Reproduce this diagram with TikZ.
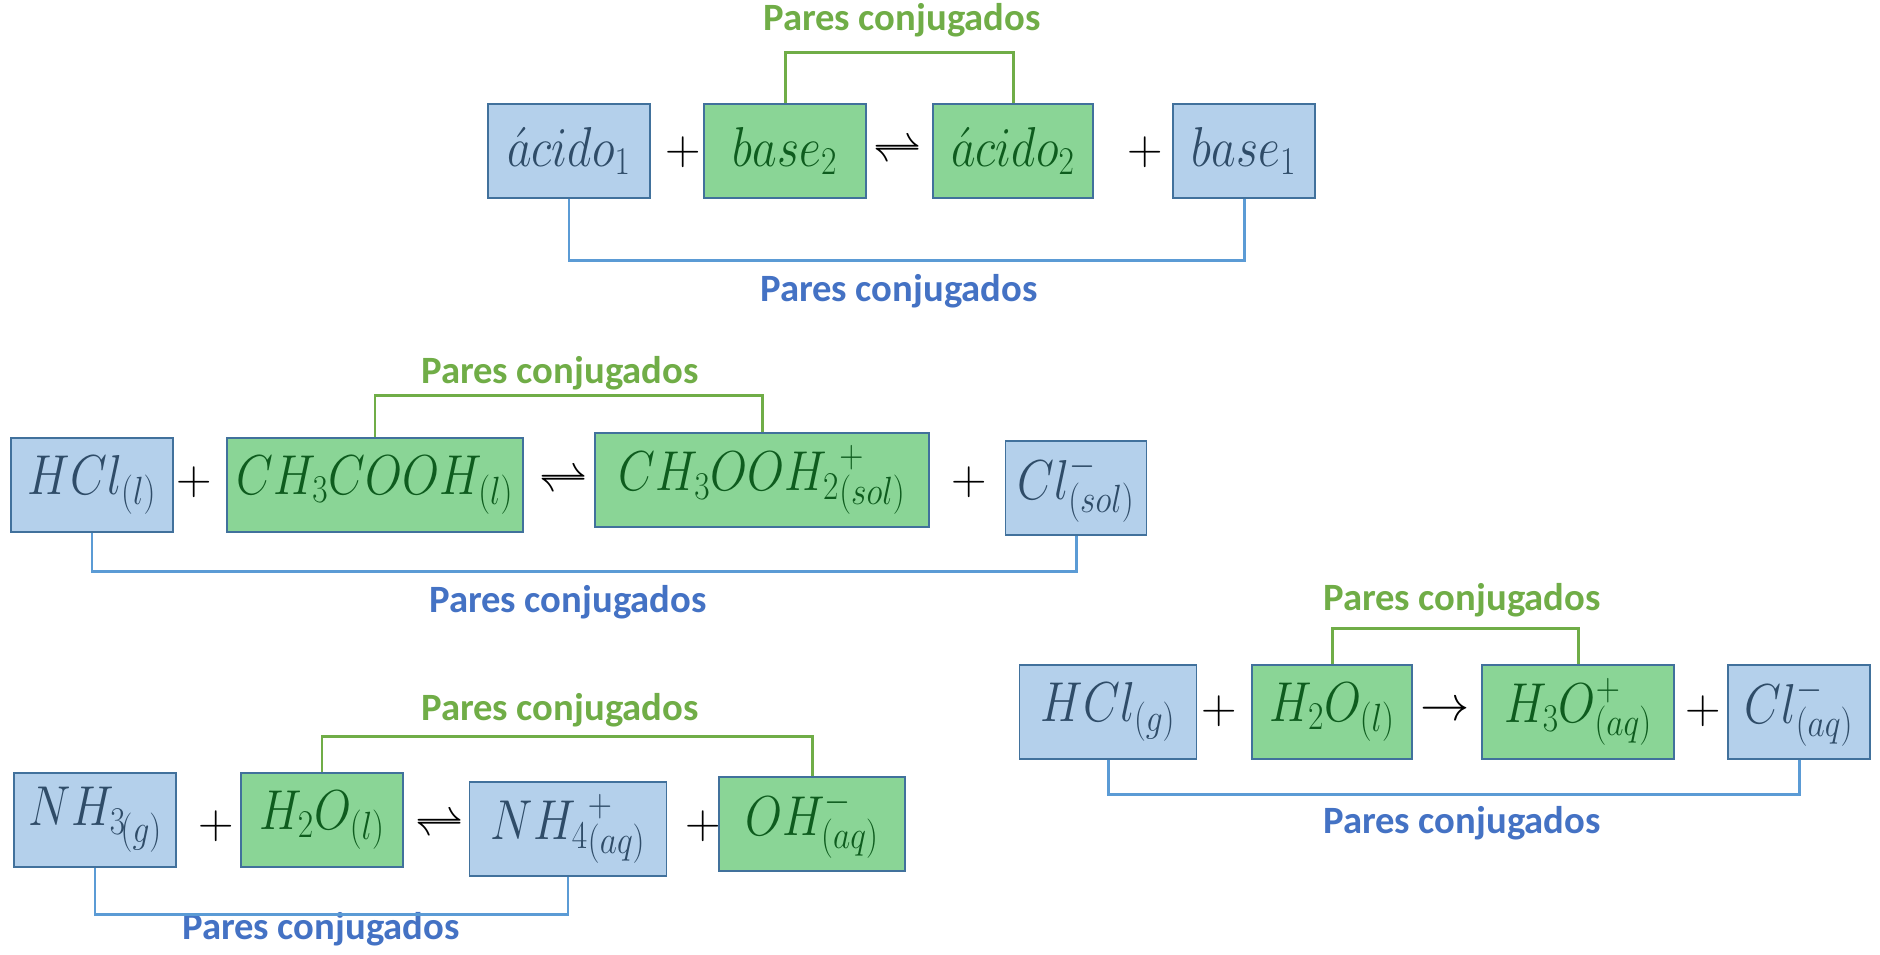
\RequirePackage{fix-cm}
\documentclass[tikz,border=0pt]{standalone}
\usepackage{graphicx}
\usepackage{fontspec}
\setmainfont{Carlito}
\usetikzlibrary{positioning}
\definecolor{azulf}{HTML}{B4D0EB}
\definecolor{verdef}{HTML}{8AD596}
\definecolor{borde}{HTML}{41719C}
\definecolor{azult}{HTML}{2F4C68}
\definecolor{verdet}{HTML}{0E5C1E}
\definecolor{verdel}{HTML}{70AD47}
\definecolor{azull}{HTML}{4472C4}
\definecolor{azulln}{HTML}{5B9BD5}
\tikzset{
  esp/.style={draw=borde, line width=1.1pt, minimum height=1.88cm, inner sep=0pt,
    font=\fontsize{32}{38}\selectfont},
  par1/.style={esp, fill=azulf, text=azult},
  par2/.style={esp, fill=verdef, text=verdet},
  op/.style={font=\fontsize{28}{34}\selectfont, inner sep=0pt},
  lblv/.style={font=\fontsize{22}{26}\selectfont\bfseries, text=verdel},
  lbla/.style={font=\fontsize{22}{26}\selectfont\bfseries, text=azull},
  unev/.style={line width=1.7pt, draw=verdel},
  unea/.style={line width=1.7pt, draw=azulln},
}
\newcommand{\fm}[1]{\scalebox{0.85}[1]{$#1$}}
\newcommand{\bajo}[1]{\lower0.3em\hbox{$\scriptstyle #1$}}

\begin{document}
\begin{tikzpicture}[x=0.02cm, y=-0.02cm]
\useasboundingbox (0,0) rectangle (1880,955);

% ── Ecuación general ────────────────────────────────────────
\node[par1, minimum width=3.24cm] (a1) at (569,151) {\fm{\acute{a}cido_1}};
\node[op] (m1) at (683,152) {$+$};
\node[par2, minimum width=3.24cm] (b2) at (785,151) {\fm{base_2}};
\node[op] (eq1) at (898,152) {$\rightleftharpoons$};
\node[par2, minimum width=3.2cm] (a2) at (1013,151) {\fm{\acute{a}cido_2}};
\node[op] (m2) at (1145,152) {$+$};
\node[par1, minimum width=2.84cm] (b1) at (1244,151) {\fm{base_1}};
\node[lblv] (lv1) at (902,20) {Pares conjugados};
\node[lbla] (la1) at (899,291) {Pares conjugados};
\draw[unev] (b2.north) -- ++(0,-51) -| (a2.north);
\draw[unea] (a1.south) -- ++(0,62) -| (b1.south);

% ── HCl + CH3COOH ───────────────────────────────────────────
\node[par1, minimum width=3.24cm] (hcl) at (92,485) {\fm{HCl_{(l)}}};
\node[op] (m3) at (194,482) {$+$};
\node[par2, minimum width=5.92cm] (acet) at (375,485) {\fm{CH_3COOH_{(l)}}};
\node[op] (eq2) at (564,482) {$\rightleftharpoons$};
\node[par2, minimum width=6.68cm] (acetp) at (762,480) {\fm{{CH_3OOH_2}^{+}_{(sol)}}};
\node[op] (m4) at (969,482) {$+$};
\node[par1, minimum width=2.82cm] (cls) at (1076,488) {\fm{Cl^{-}_{(sol)}}};
\node[lblv] (lv2) at (560,373) {Pares conjugados};
\node[lbla] (la2) at (568,602) {Pares conjugados};
\draw[unev] (acet.north) -- ++(0,-42) -| (acetp.north);
\draw[unea] (hcl.south) -- ++(0,39) -| (cls.south);

% ── NH3 + H2O ───────────────────────────────────────────────
\node[par1, minimum width=3.24cm] (nh3) at (95,820) {\fm{NH_3\mkern-2mu\bajo{(g)}}};
\node[op] (m5) at (216,826) {$+$};
\node[par2, minimum width=3.24cm] (agua1) at (322,820) {\fm{H_2O_{(l)}}};
\node[op] (eq3) at (440,826) {$\rightleftharpoons$};
\node[par1, minimum width=3.94cm] (nh4) at (568,829) {\fm{{NH_4}^{+}_{(aq)}}};
\node[op] (m6) at (703,826) {$+$};
\node[par2, minimum width=3.72cm] (oh) at (812,824) {\fm{OH^{-}_{(aq)}}};
\node[lblv] (lv3) at (560,710) {Pares conjugados};
\node[lbla] (la3) at (321,929) {Pares conjugados};
\draw[unev] (agua1.north) -- ++(0,-36) -| (oh.north);
\draw[unea] (nh3.south) -- ++(0,47) -| (nh4.south);

% ── HCl + H2O ───────────────────────────────────────────────
\node[par1, minimum width=3.54cm] (hclg) at (1108,712) {\fm{HCl_{(g)}}};
\node[op] (m7) at (1219,711) {$+$};
\node[par2, minimum width=3.2cm] (agua2) at (1332,712) {\fm{H_2O_{(l)}}};
\node[op] (fl) at (1445,711) {$\rightarrow$};
\node[par2, minimum width=3.84cm] (h3o) at (1578,712) {\fm{H_3O^{+}_{(aq)}}};
\node[op] (m8) at (1703,711) {$+$};
\node[par1, minimum width=2.84cm] (claq) at (1799,712) {\fm{Cl^{-}_{(aq)}}};
\node[lblv] (lv4) at (1462,600) {Pares conjugados};
\node[lbla] (la4) at (1462,823) {Pares conjugados};
\draw[unev] (agua2.north) -- ++(0,-36) -| (h3o.north);
\draw[unea] (hclg.south) -- ++(0,35) -| (claq.south);

\end{tikzpicture}
\end{document}
